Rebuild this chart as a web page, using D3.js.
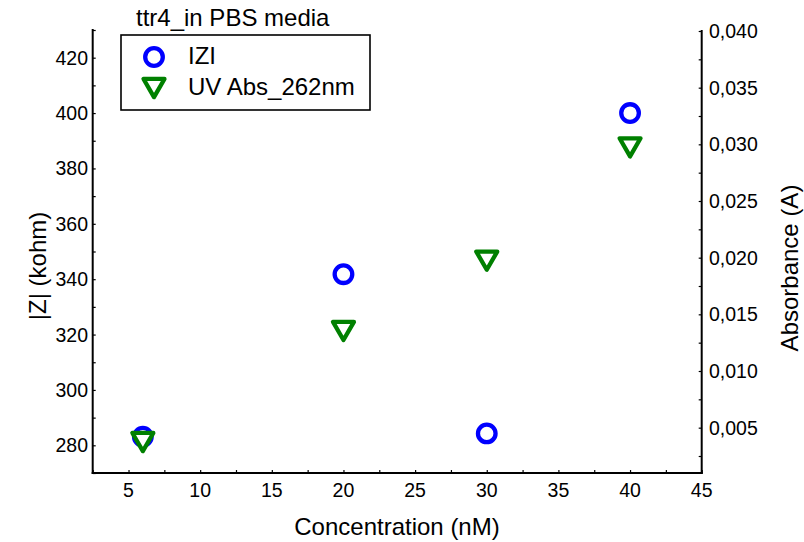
<!DOCTYPE html>
<html>
<head>
<meta charset="utf-8">
<script src="https://cdn.jsdelivr.net/npm/d3@7"></script>
<style>
  html, body { margin: 0; padding: 0; background: #fff; }
  svg text { font-family: "Liberation Sans", Arial, sans-serif; fill: #000; }
</style>
</head>
<body>
<svg id="chart" width="804" height="542"></svg>
<script>
// Measurement data
const concentration = [6, 20, 30, 40];            // nM
const impedance     = [283.1, 341.8, 284.3, 400]; // |Z| in kohm
const absorbance    = [0.0040, 0.0138, 0.0200, 0.0300]; // A at 262 nm

const xTickValues  = [5, 10, 15, 20, 25, 30, 35, 40, 45];
const yLeftTicks   = [280, 300, 320, 340, 360, 380, 400, 420];
const yRightTicks  = [0.005, 0.010, 0.015, 0.020, 0.025, 0.030, 0.035, 0.040];

const chartTitle   = "ttr4_in PBS media";
const xTitle       = "Concentration (nM)";
const yLeftTitle   = "|Z| (kohm)";
const yRightTitle  = "Absorbance (A)";
const seriesNames  = ["IZI", "UV Abs_262nm"];

const svg = d3.select("#chart");
const plotL = 92.7, plotR = 701.7, plotT = 30, plotB = 473;

const x  = d3.scaleLinear().domain([2.5, 45]).range([plotL, plotR]);
const yL = d3.scaleLinear().domain([270, 430]).range([plotB, plotT]);
const yR = d3.scaleLinear().domain([0.001, 0.040]).range([plotB, 31]);

const tickFont = "19.5px";
const labelFont = "24px";
const commaFmt = d => d3.format(".3f")(d).replace(".", ",");

// Minor ticks (inward) between labelled ones
const minorX = d3.range(2.5, 45.01, 2.5);
const minorL = d3.range(270, 430.01, 10);
const minorR = d3.range(0.0025, 0.04001, 0.0025);

const g = svg.append("g");
const styleTicks = s => {
  s.select(".domain").remove();
  s.selectAll("line").attr("stroke", "#000").attr("stroke-width", 1.2);
};

// Bottom axis
g.append("g").attr("transform", `translate(0,${plotB})`)
  .call(d3.axisBottom(x).tickValues(minorX).tickSize(-3).tickFormat(""))
  .call(styleTicks);
g.append("g").selectAll("text").data(xTickValues).join("text")
  .attr("x", d => x(d)).attr("y", 497).attr("text-anchor", "middle")
  .style("font-size", tickFont).text(d => d);

// Left axis
g.append("g").attr("transform", `translate(${plotL},0)`)
  .call(d3.axisLeft(yL).tickValues(minorL).tickSize(-3).tickFormat(""))
  .call(styleTicks);
g.append("g").selectAll("text").data(yLeftTicks).join("text")
  .attr("x", 88).attr("y", d => yL(d)).attr("dy", "0.36em").attr("text-anchor", "end")
  .style("font-size", tickFont).text(d => d);

// Right axis
g.append("g").attr("transform", `translate(${plotR},0)`)
  .call(d3.axisRight(yR).tickValues(minorR).tickSize(-3).tickFormat(""))
  .call(styleTicks);
g.append("g").selectAll("text").data(yRightTicks).join("text")
  .attr("x", 709).attr("y", d => yR(d)).attr("dy", "0.36em").attr("text-anchor", "start")
  .style("font-size", tickFont).text(commaFmt);

// Axis lines
const axisLines = [
  [plotL, plotT, plotL, plotB],
  [plotL, plotB, plotR, plotB],
  [plotR, 31, plotR, plotB]
];
g.append("g").selectAll("line").data(axisLines).join("line")
  .attr("x1", d => d[0]).attr("y1", d => d[1]).attr("x2", d => d[2]).attr("y2", d => d[3])
  .attr("stroke", "#000").attr("stroke-width", 2).attr("stroke-linecap", "square");

// Titles
svg.append("text").attr("x", 136).attr("y", 26).style("font-size", labelFont).text(chartTitle);
svg.append("text").attr("x", 397).attr("y", 535).attr("text-anchor", "middle")
  .style("font-size", labelFont).text(xTitle);
svg.append("text").attr("transform", "translate(46,266) rotate(-90)").attr("text-anchor", "middle")
  .style("font-size", labelFont).text(yLeftTitle);
svg.append("text").attr("transform", "translate(798,268) rotate(-90)").attr("text-anchor", "middle")
  .style("font-size", labelFont).text(yRightTitle);

// Markers
const blue = "#0000ff", green = "#008000";
const tri = d3.symbol().type(d3.symbolTriangle).size(190);

const pts = concentration.map((c, i) => ({ c, z: impedance[i], a: absorbance[i] }));

svg.append("g").selectAll("circle").data(pts).join("circle")
  .attr("cx", d => x(d.c)).attr("cy", d => yL(d.z)).attr("r", 8.8)
  .attr("fill", "#fff").attr("stroke", blue).attr("stroke-width", 4.3);

svg.append("g").selectAll("path").data(pts).join("path")
  .attr("d", tri)
  .attr("transform", d => `translate(${x(d.c)},${yR(d.a)}) rotate(180)`)
  .attr("fill", "#fff").attr("stroke", green).attr("stroke-width", 4.3)
  .attr("stroke-linejoin", "round");

// Legend
const leg = svg.append("g");
leg.append("rect").attr("x", 121).attr("y", 35).attr("width", 249).attr("height", 75)
  .attr("fill", "#fff").attr("stroke", "#000").attr("stroke-width", 1.6);
leg.append("circle").attr("cx", 154).attr("cy", 57).attr("r", 8.8)
  .attr("fill", "#fff").attr("stroke", blue).attr("stroke-width", 4.3);
leg.append("path").attr("d", tri).attr("transform", "translate(154,85) rotate(180)")
  .attr("fill", "#fff").attr("stroke", green).attr("stroke-width", 4.3).attr("stroke-linejoin", "round");
leg.selectAll("text").data(seriesNames).join("text")
  .attr("x", 188).attr("y", (d, i) => 64 + i * 31)
  .style("font-size", labelFont).text(d => d);
</script>
</body>
</html>
